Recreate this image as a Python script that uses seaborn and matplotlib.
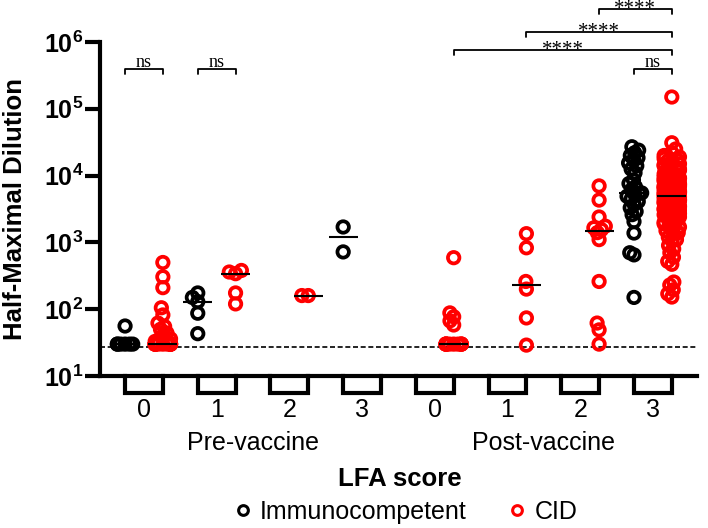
import numpy as np
import pandas as pd
import seaborn as sns
import matplotlib.pyplot as plt
from matplotlib.lines import Line2D
from matplotlib.ticker import NullLocator
import matplotlib.transforms as mtransforms

# groups on the x axis and their tick labels
groups = ['Pre 0', 'Pre 1', 'Pre 2', 'Pre 3', 'Post 0', 'Post 1', 'Post 2', 'Post 3']
tick_labels = ['0', '1', '2', '3', '0', '1', '2', '3']
statuses = ['Immunocompetent', 'CID']
colors = ['#000000', '#ff0000']

# half-maximal dilution values
pre0_ic = [30, 30, 30, 30, 30, 30, 56]
pre1_ic = [43, 87, 130, 150, 175]
pre3_ic = [720, 1700]
post3_ic = [150, 650, 700, 1380, 2050, 2600, 2900, 3300, 3700, 4100, 4500, 4900,
            5200, 5400, 5500, 6100, 6800, 7600, 8600, 11000, 12500, 14000, 15500,
            17000, 18500, 20000, 22000, 24000, 27000]

pre0_cid = [30, 30, 30, 30, 30, 30, 30, 30, 30, 30, 30, 30, 30,
            33, 36, 40, 44, 50, 55, 62, 82, 105, 210, 305, 500]
pre1_cid = [120, 175, 340, 360, 380]
pre2_cid = [160, 160]
post0_cid = [30, 30, 30, 30, 30, 30, 30, 30, 30, 30, 58, 67, 77, 88, 590]
post1_cid = [29, 74, 200, 260, 830, 1350]
post2_cid = [30, 49, 62, 260, 1100, 1400, 1550, 1650, 1750, 2400, 4300, 7000]
post3_cid = [150000, 31000, 25000, 22000, 20000, 19000, 18000, 17000, 16500, 16000,
             15000, 14500, 14000, 13500, 13000, 12500, 12000, 11500, 11000, 10500,
             10000, 9800, 9500, 9200, 9000, 8700, 8500, 8300, 8000, 7800, 7600, 7400,
             7200, 7000, 6900, 6700, 6600, 6400, 6200, 6100, 5900, 5800, 5700, 5600,
             5500, 5300, 5100, 5000,
             4900,
             4800, 4700, 4600, 4500, 4400, 4300, 4200, 4000, 3900, 3800, 3700, 3600,
             3500, 3400, 3200, 3100, 3000, 2900, 2800, 2700, 2600, 2500, 2400, 2300,
             2200, 2100, 2000, 1900, 1800, 1700, 1650, 1500, 1400, 1350, 1200, 1100,
             1050, 900, 800, 700, 600, 520, 470, 255, 230, 195, 170, 152]

lod = 27  # dashed detection limit

# significance brackets: (group, hue side, group, hue side, height, label)
brackets = [
    (0, 0, 0, 1, 4.0e5, 'ns'),
    (1, 0, 1, 1, 4.0e5, 'ns'),
    (7, 0, 7, 1, 4.0e5, 'ns'),
    (4, 1, 7, 1, 7.6e5, '****'),
    (5, 1, 7, 1, 1.42e6, '****'),
    (6, 1, 7, 1, 3.1e6, '****'),
]

series = [
    ('Pre 0', 'Immunocompetent', pre0_ic), ('Pre 1', 'Immunocompetent', pre1_ic),
    ('Pre 3', 'Immunocompetent', pre3_ic), ('Post 3', 'Immunocompetent', post3_ic),
    ('Pre 0', 'CID', pre0_cid), ('Pre 1', 'CID', pre1_cid), ('Pre 2', 'CID', pre2_cid),
    ('Post 0', 'CID', post0_cid), ('Post 1', 'CID', post1_cid),
    ('Post 2', 'CID', post2_cid), ('Post 3', 'CID', post3_cid),
]
rows = [(g, s, v) for g, s, vals in series for v in vals]
df = pd.DataFrame(rows, columns=['group', 'status', 'value'])

# each status sits left/right of its group centre
off = 0.26
df['xpos'] = df['group'].map(groups.index) + np.where(df['status'] == statuses[0], -off, off)
centres = np.sort(df['xpos'].unique())

sns.set_style('ticks')
plt.rcParams['font.family'] = ['Liberation Sans', 'DejaVu Sans']
plt.rcParams['mathtext.fontset'] = 'custom'
plt.rcParams['mathtext.rm'] = 'Liberation Sans'
plt.rcParams['mathtext.bf'] = 'Liberation Sans:bold'
for k in ['text.color', 'axes.labelcolor', 'xtick.color', 'ytick.color', 'axes.edgecolor']:
    plt.rcParams[k] = 'black'

fig = plt.figure(figsize=(7.08, 5.28), dpi=100)
ax = fig.add_axes([0.1412, 0.2879, 0.8433, 0.6326])

sns.swarmplot(data=df, x='xpos', y='value', hue='status', hue_order=statuses,
              palette=colors, native_scale=True, size=5.5, linewidth=0, ax=ax,
              legend=False, log_scale=(False, True), warn_thresh=1)

ax.set_xlim(-0.605, 7.607)
ax.set_ylim(10, 1e6)

# lay the swarm out first, then squeeze it (more for the crowded groups) and
# draw bigger hollow markers so they overlap like the original
fig.canvas.draw()
for pc in ax.collections:
    pc.__dict__.pop('draw', None)
    fc = pc.get_facecolor()
    xy = pc.get_offsets()
    if len(fc) == 0 or len(xy) == 0:
        continue
    xy = np.asarray(xy, dtype=float)
    c = centres[np.argmin(np.abs(centres - np.median(xy[:, 0])))]
    squeeze = 0.55 if len(xy) >= 7 else 0.8
    xy[:, 0] = c + (xy[:, 0] - c) * squeeze
    pc.set_offsets(xy)
    pc.set_edgecolor(fc[0])
    pc.set_facecolor('none')
    pc.set_linewidth(2.7)
    pc.set_sizes([68])
    pc.set_zorder(3)

# medians
med = df.groupby('xpos')['value'].median()
for xc, m in med.items():
    ax.plot([xc - 0.2, xc + 0.2], [m, m], color='black', lw=1.5, zorder=5,
            solid_capstyle='butt')

ax.axhline(lod, color='black', lw=1.2, ls=(0, (3, 1.6)), zorder=1)

# axes styling
sns.despine(ax=ax)
for sp in ['left', 'bottom']:
    ax.spines[sp].set_linewidth(3)
ax.set_yticks([1e1, 1e2, 1e3, 1e4, 1e5, 1e6])
ax.set_yticklabels([r'$\mathbf{10^{%d}}$' % k for k in range(1, 7)], fontsize=18)
ax.yaxis.set_minor_locator(NullLocator())
ax.tick_params(axis='y', length=11, width=3, pad=1)
ax.set_xticks(range(len(groups)))
ax.set_xticklabels(tick_labels, fontsize=18)
ax.xaxis.set_minor_locator(NullLocator())
ax.tick_params(axis='x', length=0, pad=16)
ax.set_xlabel('')
ax.set_ylabel('Half-Maximal Dilution', fontsize=18.5, fontweight='bold', va='center')
ax.yaxis.set_label_coords(-0.142, 0.5)

# box shaped group ticks under the x axis
trans = mtransforms.blended_transform_factory(ax.transData, ax.transAxes)
depth = -0.051
for i in range(len(groups)):
    ax.plot([i - off, i - off, i + off, i + off], [0, depth, depth, 0],
            transform=trans, color='black', lw=3, clip_on=False,
            solid_joinstyle='miter', solid_capstyle='projecting')

ax.text(1.5, -0.2, 'Pre-vaccine', transform=trans, ha='center', va='center', fontsize=18)
ax.text(5.5, -0.2, 'Post-vaccine', transform=trans, ha='center', va='center', fontsize=18)
fig.text(0.565, 1 - 479 / 528, 'LFA score', ha='center', va='center',
         fontsize=18.5, fontweight='bold')

# significance brackets
serif = ['Liberation Serif', 'DejaVu Serif']
for g1, h1, g2, h2, yb, lab in brackets:
    x1 = g1 + (off if h1 else -off)
    x2 = g2 + (off if h2 else -off)
    ax.plot([x1, x1, x2, x2], [yb * 0.84, yb, yb, yb * 0.84], color='black',
            lw=1.3, clip_on=False)
    if lab == 'ns':
        ax.annotate(lab, ((x1 + x2) / 2, yb), xytext=(0, 1.2), textcoords='offset points',
                    ha='center', va='baseline', fontsize=13, family=serif,
                    annotation_clip=False)
    else:
        ax.annotate(lab, ((x1 + x2) / 2, yb), xytext=(0, -3.5), textcoords='offset points',
                    ha='center', va='baseline', fontsize=15, family=serif,
                    annotation_clip=False)

handles = [Line2D([], [], marker='o', ls='', mfc='none', mec=c, mew=2.2, ms=7)
           for c in colors]
fig.legend(handles, statuses, loc='center', bbox_to_anchor=(0.572, 1 - 512 / 528),
           ncol=2, frameon=False, fontsize=18, handletextpad=0.3,
           columnspacing=1.6, handlelength=0.8)

fig.savefig('out.png', dpi=100)
